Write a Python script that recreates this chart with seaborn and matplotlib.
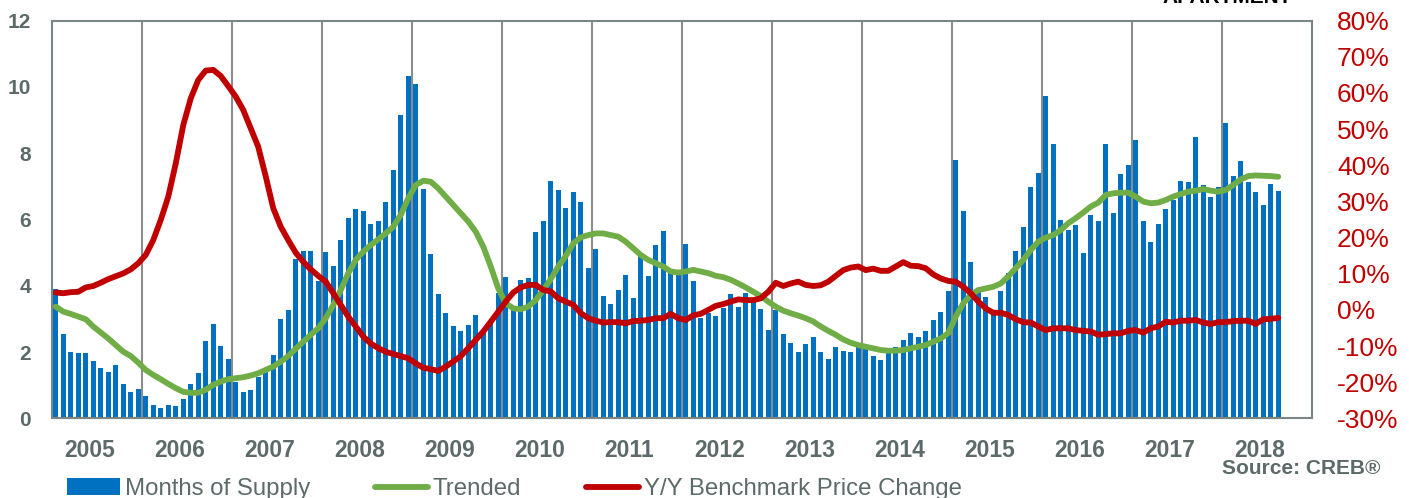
import numpy as np
import matplotlib
matplotlib.use("Agg")
import matplotlib.pyplot as plt
import seaborn as sns

# monthly values, Jan 2005 - Aug 2018
months_supply = [
    3.89, 2.54, 2.01, 1.98, 1.98, 1.74, 1.51, 1.39, 1.61, 1.05, 0.79, 0.89,
    0.68, 0.39, 0.30, 0.39, 0.37, 0.58, 1.05, 1.38, 2.34, 2.84, 2.19, 1.79,
    1.11, 0.78, 0.84, 1.26, 1.40, 1.90, 3.00, 3.26, 4.82, 5.05, 5.05, 4.13,
    5.01, 4.61, 5.37, 6.04, 6.32, 6.26, 5.86, 5.96, 6.54, 7.48, 9.16, 10.33,
    10.10, 6.92, 4.97, 3.75, 3.18, 2.78, 2.64, 2.83, 3.12, 2.68, 2.87, 3.79,
    4.26, 3.30, 4.17, 4.24, 5.61, 5.94, 7.17, 6.90, 6.34, 6.84, 6.53, 4.54,
    5.11, 3.68, 3.46, 3.87, 4.33, 3.64, 4.94, 4.28, 5.23, 5.64, 4.40, 4.36,
    5.25, 4.15, 3.02, 3.17, 3.08, 3.32, 3.74, 3.36, 3.79, 3.55, 3.29, 2.68,
    3.26, 2.55, 2.28, 1.99, 2.24, 2.46, 2.00, 1.78, 2.16, 2.03, 2.01, 2.14,
    2.10, 1.88, 1.75, 1.96, 2.16, 2.36, 2.57, 2.46, 2.62, 2.96, 3.22, 3.85,
    7.79, 6.25, 4.73, 3.91, 3.67, 3.12, 3.85, 4.38, 5.05, 5.78, 6.99, 7.39,
    9.73, 8.29, 5.97, 5.68, 5.84, 5.00, 6.15, 5.94, 8.28, 6.19, 7.36, 7.63,
    8.41, 5.94, 5.33, 5.86, 6.33, 6.59, 7.15, 7.14, 8.50, 7.03, 6.69, 6.97,
    8.92, 7.31, 7.76, 7.12, 6.84, 6.45, 7.06, 6.87,
]

trended = [
    3.37, 3.22, 3.15, 3.07, 2.99, 2.77, 2.59, 2.41, 2.21, 2.01, 1.88, 1.68,
    1.46, 1.31, 1.18, 1.04, 0.91, 0.80, 0.77, 0.77, 0.86, 1.01, 1.11, 1.18,
    1.21, 1.24, 1.29, 1.36, 1.46, 1.56, 1.71, 1.88, 2.10, 2.31, 2.52, 2.72,
    3.02, 3.42, 3.87, 4.38, 4.78, 5.03, 5.23, 5.40, 5.58, 5.78, 6.14, 6.64,
    7.04, 7.17, 7.14, 6.94, 6.69, 6.44, 6.19, 5.94, 5.63, 5.18, 4.58, 3.92,
    3.47, 3.32, 3.29, 3.37, 3.57, 3.87, 4.20, 4.58, 4.90, 5.28, 5.46, 5.53,
    5.58, 5.58, 5.53, 5.48, 5.33, 5.13, 4.93, 4.78, 4.68, 4.58, 4.43, 4.40,
    4.43, 4.48, 4.43, 4.38, 4.30, 4.26, 4.18, 4.07, 3.95, 3.82, 3.69, 3.52,
    3.37, 3.25, 3.17, 3.10, 3.02, 2.92, 2.77, 2.64, 2.52, 2.38, 2.28, 2.21,
    2.16, 2.11, 2.06, 2.04, 2.04, 2.06, 2.11, 2.16, 2.21, 2.31, 2.41, 2.57,
    3.07, 3.47, 3.72, 3.87, 3.92, 3.97, 4.07, 4.28, 4.53, 4.78, 5.08, 5.33,
    5.45, 5.53, 5.68, 5.89, 6.04, 6.21, 6.39, 6.51, 6.74, 6.79, 6.81, 6.81,
    6.69, 6.54, 6.49, 6.51, 6.59, 6.69, 6.77, 6.84, 6.87, 6.92, 6.87, 6.84,
    6.89, 7.04, 7.21, 7.31, 7.33, 7.32, 7.31, 7.29,
]

yy_price_change = [
    4.8, 4.6, 4.9, 5.0, 6.2, 6.6, 7.5, 8.5, 9.3, 10.1, 11.2, 12.9,
    15.2, 19.3, 24.9, 31.3, 40.5, 51.1, 58.5, 63.6, 66.2, 66.4, 64.7, 61.9,
    59.0, 55.3, 50.2, 45.1, 36.9, 28.1, 23.0, 19.3, 15.8, 13.3, 11.2, 9.4,
    7.8, 4.6, 1.4, -1.9, -4.6, -7.4, -9.3, -10.6, -11.6, -12.2, -12.8, -13.4,
    -14.8, -16.0, -16.4, -16.9, -15.7, -14.3, -12.8, -10.6, -8.3, -6.0, -3.3, -0.5,
    2.3, 4.8, 6.2, 6.9, 6.9, 5.5, 5.1, 3.2, 2.3, 1.4, -0.9, -2.3,
    -3.0, -3.5, -3.4, -3.4, -3.7, -3.1, -3.0, -2.8, -2.3, -2.3, -1.1, -2.3,
    -2.8, -1.5, -1.1, 0.0, 1.1, 1.6, 2.3, 2.9, 2.7, 2.7, 3.2, 5.0,
    7.5, 6.6, 7.3, 7.8, 6.9, 6.6, 6.8, 7.8, 9.4, 11.0, 11.7, 12.0,
    11.0, 11.4, 10.8, 10.8, 12.0, 13.2, 12.2, 12.1, 11.5, 9.8, 8.7, 8.0,
    7.8, 6.4, 4.6, 2.3, 0.4, -0.8, -0.8, -1.4, -2.6, -3.4, -3.5, -4.6,
    -5.6, -5.1, -5.1, -5.1, -5.6, -5.8, -6.0, -6.9, -6.7, -6.5, -6.5, -5.8,
    -5.6, -6.3, -5.1, -4.6, -3.3, -3.5, -3.0, -3.0, -2.8, -3.5, -3.9, -3.4,
    -3.4, -3.1, -3.0, -3.0, -3.9, -2.6, -2.5, -2.2,
]

years = [str(y) for y in range(2005, 2019)]
left_ticks = [0, 2, 4, 6, 8, 10, 12]
right_ticks = [-30, -20, -10, 0, 10, 20, 30, 40, 50, 60, 70, 80]
series_names = ["Months of Supply", "Trended", "Y/Y Benchmark Price Change"]

BLUE = "#0070C0"
GREEN = "#70AD47"
RED = "#C00000"
GREY = "#5D6A6A"

sns.set_theme(style="white")
plt.rcParams["font.family"] = ["Liberation Sans", "DejaVu Sans"]

month_idx = np.arange(len(months_supply))

fig = plt.figure(figsize=(14.09, 4.98), dpi=100)
ax = fig.add_axes([52 / 1409, 1 - 418.3 / 498, 1260 / 1409, 397.6 / 498])

# year separators
for k in range(1, len(years)):
    ax.axvline(12 * k - 0.5, color="#8c8c8c", lw=1.5, zorder=0)

sns.barplot(x=month_idx, y=months_supply, native_scale=True, width=0.62,
            color=BLUE, saturation=1, linewidth=0, ax=ax,
            label=series_names[0], zorder=2)
sns.lineplot(x=month_idx, y=trended, color=GREEN, lw=4.2, ax=ax,
             label=series_names[1], zorder=3)

ax2 = ax.twinx()
sns.lineplot(x=month_idx, y=yy_price_change, color=RED, lw=4.2, ax=ax2,
             label=series_names[2])

for a in (ax, ax2):
    if a.get_legend() is not None:
        a.get_legend().remove()

ax.set_xlim(-0.5, 12 * len(years) - 0.5)
ax.set_ylim(0, 12)
ax.set_yticks(left_ticks)
ax.set_yticklabels([str(t) for t in left_ticks])
ax.set_xticks([12 * k + 4.5 for k in range(len(years))])
ax.set_xticklabels(years)
ax.set_xlabel("")
ax.set_ylabel("")
ax.tick_params(axis="y", length=0, pad=15, labelsize=15, labelcolor=GREY)
ax.tick_params(axis="x", length=0, pad=15, labelsize=16.5, labelcolor=GREY)
for lab in ax.get_xticklabels() + ax.get_yticklabels():
    lab.set_fontweight("bold")
for s in ax.spines.values():
    s.set_visible(True)
    s.set_color("#7a8585")
    s.set_linewidth(1.5)

ax2.set_ylim(-30, 80)
ax2.set_yticks(right_ticks)
ax2.set_yticklabels([f"{t}%" for t in right_ticks])
ax2.set_ylabel("")
ax2.tick_params(axis="y", length=0, pad=18, labelsize=19, labelcolor=RED)
for s in ax2.spines.values():
    s.set_visible(False)

h1, l1 = ax.get_legend_handles_labels()
h2, l2 = ax2.get_legend_handles_labels()
by_label = dict(zip(l1 + l2, h1 + h2))
leg = fig.legend([by_label[n] for n in series_names], series_names,
                 loc="center left", bbox_to_anchor=(67 / 1409, 1 - 489 / 498),
                 ncol=3, frameon=False, fontsize=17.3, handlelength=2.2,
                 handletextpad=0.2, columnspacing=2.7, borderpad=0,
                 borderaxespad=0)
for t in leg.get_texts():
    t.set_color(GREY)

# header text cut off at the top of the image
fig.text(15 / 1409, 1.0, "MONTHS OF SUPPLY AND PRICE CHANGES",
         color="#4FA3DB", fontsize=15, fontweight="bold", va="baseline")
fig.text(1292 / 1409, 1 - 3 / 498, "APARTMENT", color="black",
         fontsize=15, fontweight="bold", va="baseline", ha="right")
fig.text(1381 / 1409, 1 - 468 / 498, "Source: CREB®", color=GREY,
         fontsize=15, fontweight="bold", va="center", ha="right")

fig.savefig("out.png", dpi=100)
